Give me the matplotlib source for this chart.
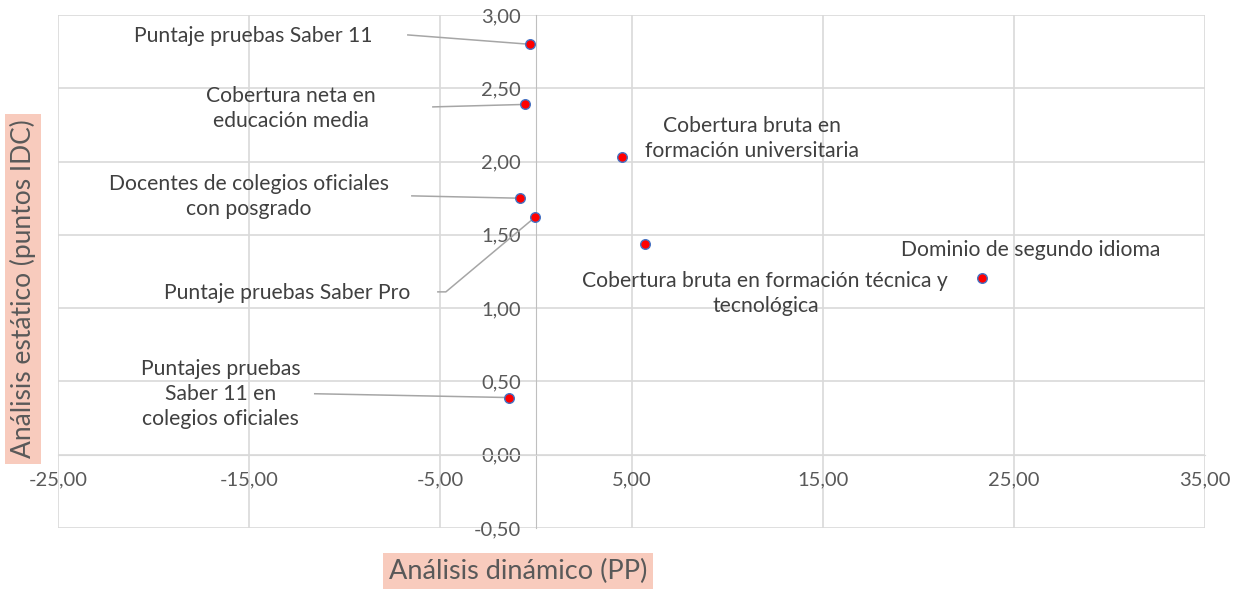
import numpy as np
import matplotlib.pyplot as plt
from matplotlib.ticker import FuncFormatter

# datos: análisis dinámico (PP) vs análisis estático (puntos IDC)
nombres = [
    'Puntaje pruebas Saber 11',
    'Cobertura neta en\neducación media',
    'Cobertura bruta en\nformación universitaria',
    'Docentes de colegios oficiales\ncon posgrado',
    'Puntaje pruebas Saber Pro',
    'Cobertura bruta en formación técnica y\ntecnológica',
    'Dominio de segundo idioma',
    'Puntajes pruebas\nSaber 11 en\ncolegios oficiales',
]
dinamico = [-0.30, -0.55, 4.52, -0.82, -0.05, 5.70, 23.35, -1.40]
estatico = [2.80, 2.39, 2.03, 1.75, 1.62, 1.44, 1.205, 0.39]

x_ticks = [-25, -15, -5, 5, 15, 25, 35]
y_ticks = [-0.5, 0, 0.5, 1, 1.5, 2, 2.5, 3]

gris = '#595959'
rejilla = '#D9D9D9'
plt.rcParams['font.family'] = ['Lato', 'DejaVu Sans']

fig = plt.figure(figsize=(12.37, 5.90), dpi=100)
ax = fig.add_axes([58/1237, 62/590, 1147/1237, 513/590])

ax.scatter(dinamico, estatico, s=48, color='red', edgecolor='#4472C4',
           linewidth=1, zorder=5)

ax.set_xlim(-25, 35)
ax.set_ylim(-0.5, 3)
ax.set_xticks(x_ticks)
ax.set_yticks(y_ticks)
fmt = FuncFormatter(lambda v, p: f'{v:.2f}'.replace('.', ','))
ax.xaxis.set_major_formatter(fmt)
ax.yaxis.set_major_formatter(fmt)
ax.grid(True, color=rejilla, lw=1.2)
ax.set_axisbelow(True)

for s in ['top', 'right']:
    ax.spines[s].set_visible(False)
ax.spines['left'].set_position(('data', 0))
ax.spines['left'].set_color('#BFBFBF')
ax.spines['bottom'].set_position(('data', 0))
ax.spines['bottom'].set_color(rejilla)
ax.tick_params(axis='both', length=0, labelsize=14.5, labelcolor=gris)
ax.tick_params(axis='x', pad=12)
ax.tick_params(axis='y', pad=11)

# etiquetas (posición del texto)
pos_texto = [(-14.8, 2.86), (-12.8, 2.36), (11.3, 2.16), (-15.0, 1.76),
             (-13.0, 1.10), (12.0, 1.10), (25.9, 1.40), (-16.5, 0.415)]
for n, (tx, ty) in zip(nombres, pos_texto):
    ax.text(tx, ty, n, ha='center', va='center', fontsize=15.2,
            color='#404040', linespacing=1.3)

# líneas guía
guias = {0: [(-6.70, 2.864)], 1: [(-5.39, 2.373)], 3: [(-6.49, 1.766)],
         4: [(-5.13, 1.111), (-4.71, 1.111)], 7: [(-11.57, 0.416)]}
for i, pts in guias.items():
    xs = [p[0] for p in pts] + [dinamico[i]]
    ys = [p[1] for p in pts] + [estatico[i]]
    ax.plot(xs, ys, color='#A6A6A6', lw=1.1, zorder=3)

caja = dict(boxstyle='square,pad=0.2', fc='#F8CBBD', ec='none')
fig.text(518/1237, 19/590, 'Análisis dinámico (PP)', ha='center', va='center',
         fontsize=19.5, color=gris, bbox=caja)
fig.text(23/1237, 301/590, 'Análisis estático (puntos IDC)', ha='center',
         va='center', rotation=90, fontsize=19, color=gris, bbox=caja)

plt.savefig('out.png', dpi=100)
